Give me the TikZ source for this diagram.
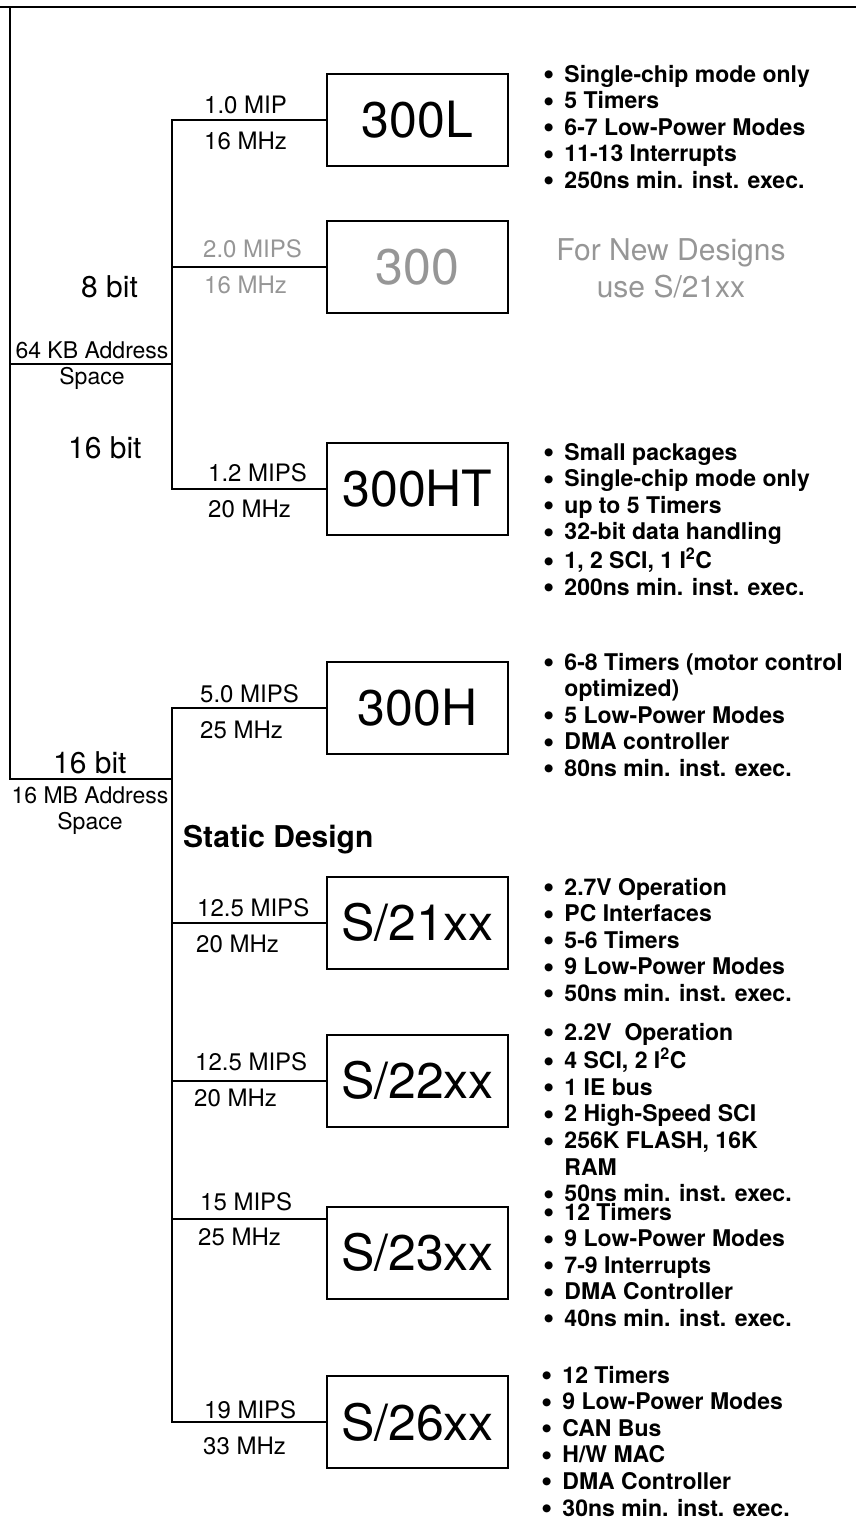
\documentclass[tikz,border=0pt]{standalone}
\usepackage{fontspec}
\setmainfont{TeX Gyre Heros}
\usepackage{graphicx}
\usepackage{tikz}
\usetikzlibrary{calc}
\definecolor{faded}{RGB}{150,150,150}
\newcommand{\featlist}[1]{\begin{tabular}[t]{@{}l@{\hspace{10pt}}l@{}}#1\end{tabular}}
\newcommand{\stack}[1]{\begin{tabular}[t]{@{}c@{}}#1\end{tabular}}
\newcommand{\bul}{\raisebox{-0.11em}[0pt][0pt]{\scalebox{1.4}{\textbullet}}}
\newcommand{\itm}{\bul &}
\tikzset{
  chip/.style={draw,line width=2pt,minimum width=181pt,minimum height=92pt,inner sep=0pt,font=\fontsize{50}{50}\selectfont},
  rate/.style={anchor=base west,inner sep=0pt,font=\fontsize{24}{28}\selectfont},
  bits/.style={anchor=base west,inner sep=0pt,font=\fontsize{30}{34}\selectfont},
  addr/.style={anchor=base,inner sep=0pt,font=\fontsize{23}{26.5}\selectfont},
  feat/.style={anchor=base west,inner sep=0pt,font=\bfseries\fontsize{23}{26.6}\selectfont},
  wire/.style={line width=2pt},
}

\begin{document}
\begin{tikzpicture}[x=1pt,y=-1pt]
  \useasboundingbox (0,0) rectangle (856,1518);
  % chips
  \node[chip] (c300L) at (417.5,120) {300L};
  \node[chip,text=faded] (c300) at (417.5,267) {300};
  \node[chip] (c300HT) at (417.5,489) {300HT};
  \node[chip] (c300H) at (417.5,708) {300H};
  \node[chip] (c21) at (417.5,922.5) {S/21xx};
  \node[chip] (c22) at (417.5,1080.5) {S/22xx};
  \node[chip] (c23) at (417.5,1252.5) {S/23xx};
  \node[chip] (c26) at (417.5,1422) {S/26xx};

  % tree
  \coordinate (top) at (10,7);
  \coordinate (root8) at (10,364);
  \coordinate (root16) at (10,779);
  \coordinate (j8) at (172,364);
  \coordinate (j16) at (172,779);
  \coordinate (b23) at ([yshift=-13.5pt]c23.north west);
  \draw[wire] (0,7) -- (856,7);
  \draw[wire] (top) -- (root16) -- (j16);
  \draw[wire] (root8) -- (j8);
  \draw[wire] (c300L.west) -- (c300L.west -| j8) -- (c300HT.west -| j8) -- (c300HT.west);
  \draw[wire] (c300.west) -- (c300.west -| j8);
  \draw[wire] (c300H.west) -- (c300H.west -| j16) -- (c26.west -| j16) -- (c26.west);
  \draw[wire] (c21.west) -- (c21.west -| j16);
  \draw[wire] (c22.west) -- (c22.west -| j16);
  \draw[wire] (b23) -- (b23 -| j16);

  % left labels
  \node[bits] (b8) at (81,297) {8 bit};
  \node[bits] (b16a) at (68,458) {16 bit};
  \node[bits] (b16b) at (53,773) {16 bit};
  \node[addr] (a64) at (92,358) {\stack{64 KB Address\\Space}};
  \node[addr] (a16) at (90,803) {\stack{16 MB Address\\Space}};
  \node[bits,font=\bfseries\fontsize{30}{34}\selectfont] (stat) at (183,847) {Static Design};

  % speeds
  \node[rate] (m300L) at (204,113) {1.0 MIP};
  \node[rate] (f300L) at (204,149) {16 MHz};
  \node[rate,text=faded] (m300) at (203,257) {2.0 MIPS};
  \node[rate,text=faded] (f300) at (204,293) {16 MHz};
  \node[rate] (m300HT) at (208,481) {1.2 MIPS};
  \node[rate] (f300HT) at (208,517) {20 MHz};
  \node[rate] (m300H) at (200,702) {5.0 MIPS};
  \node[rate] (f300H) at (200,738) {25 MHz};
  \node[rate] (m21) at (197,916) {12.5 MIPS};
  \node[rate] (f21) at (196,952) {20 MHz};
  \node[rate] (m22) at (195,1070) {12.5 MIPS};
  \node[rate] (f22) at (194,1106) {20 MHz};
  \node[rate] (m23) at (200,1210) {15 MIPS};
  \node[rate] (f23) at (198,1245) {25 MHz};
  \node[rate] (m26) at (204,1418) {19 MIPS};
  \node[rate] (f26) at (203,1454) {33 MHz};

  % features
  \node[feat] (l300L) at (543,82) {\featlist{
    \itm Single-chip mode only\\
    \itm 5 Timers\\
    \itm 6-7 Low-Power Modes\\
    \itm 11-13 Interrupts\\
    \itm 250ns min. inst. exec.}};
  \node[anchor=base,inner sep=0pt,text=faded,font=\fontsize{30}{37}\selectfont] (n300) at (671,260)
    {\stack{For New Designs\\use S/21xx}};
  \node[feat] (l300HT) at (543,460) {\featlist{
    \itm Small packages\\
    \itm Single-chip mode only\\
    \itm up to 5 Timers\\
    \itm 32-bit data handling\\
    \itm 1, 2 SCI, 1 I\textsuperscript{2}C\\
    \itm 200ns min. inst. exec.}};
  \node[feat] (l300H) at (543,670) {\featlist{
    \itm 6-8 Timers (motor control\\
    & optimized)\\
    \itm 5 Low-Power Modes\\
    \itm DMA controller\\
    \itm 80ns min. inst. exec.}};
  \node[feat] (l21) at (543,895) {\featlist{
    \itm 2.7V Operation\\
    \itm PC Interfaces\\
    \itm 5-6 Timers\\
    \itm 9 Low-Power Modes\\
    \itm 50ns min. inst. exec.}};
  \node[feat] (l22) at (543,1040) {\featlist{
    \itm 2.2V~ Operation\\
    \itm 4 SCI, 2 I\textsuperscript{2}C\\
    \itm 1 IE bus\\
    \itm 2 High-Speed SCI\\
    \itm 256K FLASH, 16K\\
    & RAM\\
    \itm 50ns min. inst. exec.}};
  \node[feat] (l23) at (543,1220) {\featlist{
    \itm 12 Timers\\
    \itm 9 Low-Power Modes\\
    \itm 7-9 Interrupts\\
    \itm DMA Controller\\
    \itm 40ns min. inst. exec.}};
  \node[feat] (l26) at (541,1383) {\featlist{
    \itm 12 Timers\\
    \itm 9 Low-Power Modes\\
    \itm CAN Bus\\
    \itm H/W MAC\\
    \itm DMA Controller\\
    \itm 30ns min. inst. exec.}};
\end{tikzpicture}
\end{document}
